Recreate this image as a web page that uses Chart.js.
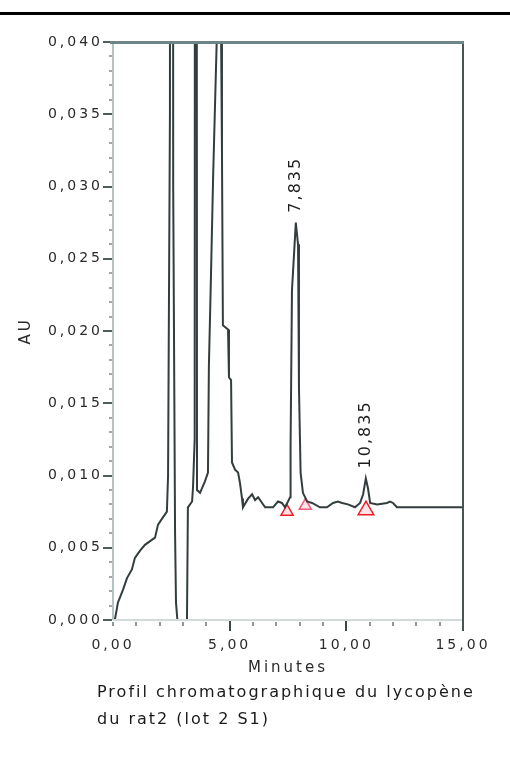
<!DOCTYPE html>
<html>
<head>
<meta charset="utf-8">
<script src="https://cdn.jsdelivr.net/npm/chart.js@4.4.1/dist/chart.umd.min.js"></script>
<style>
  html, body { margin: 0; padding: 0; background: #fff; }
  #page { position: relative; width: 510px; height: 776px; overflow: hidden; }
  #rule { position: absolute; left: 0; top: 12px; width: 510px; height: 3px; background: #000; }
  #wrap { position: absolute; left: 0; top: 0; width: 510px; height: 680px; }
  #caption {
    position: absolute; left: 97px; top: 678px;
    font: 16px "DejaVu Sans", sans-serif; letter-spacing: 2px; line-height: 27px; color: #1a1a1a;
  }
</style>
</head>
<body>
<div id="page">
  <div id="rule"></div>
  <div id="wrap"><canvas id="chrom" width="510" height="680"></canvas></div>
  <div id="caption">Profil chromatographique du lycopène<br>du rat2 (lot 2 S1)</div>
</div>
<script>
// retention time (min) and detector response (AU)
const minutes = [
  0.00, 0.09, 0.21, 0.43, 0.60, 0.81, 0.94, 1.16, 1.37, 1.80, 1.93, 2.14, 2.31, 2.36,
  2.44, 2.50, 2.58, 2.66, 2.70, 2.76, 2.82, 3.10, 3.17, 3.21, 3.39, 3.43, 3.50, 3.55,
  3.60, 3.73, 3.94, 4.07, 4.11, 4.20, 4.29, 4.46, 4.55, 4.63, 4.67, 4.71, 4.93, 4.97,
  5.06, 5.10, 5.23, 5.36, 5.44, 5.53, 5.57, 5.79, 5.96, 6.09, 6.22, 6.39, 6.52, 6.86,
  7.07, 7.24, 7.37, 7.50, 7.59, 7.61, 7.67, 7.835, 7.93, 7.97, 8.04, 8.14, 8.32, 8.53,
  8.87, 9.17, 9.43, 9.64, 9.82, 10.07, 10.37, 10.59, 10.72, 10.835, 10.93, 11.02, 11.32,
  11.74, 11.87, 12.00, 12.17, 12.43, 15.00
];
const absorbance = [
  0.0000, 0.0001, 0.0012, 0.0021, 0.0029, 0.0035, 0.0043, 0.0048, 0.0052, 0.0057, 0.0066, 0.0071, 0.0075, 0.0100,
  0.0350, 0.3000, 0.0300, 0.0060, 0.0012, 0.0000, -0.0040, -0.0040, 0.0000, 0.0078, 0.0082, 0.0092, 0.0125, 0.2000,
  0.0090, 0.0088, 0.0096, 0.0102, 0.0176, 0.0239, 0.0306, 0.0410, 0.0600, 0.0410, 0.0324, 0.0204, 0.0201, 0.0168,
  0.0166, 0.0109, 0.0104, 0.0102, 0.0095, 0.0084, 0.0078, 0.0084, 0.0087, 0.0083, 0.0085, 0.0081, 0.0078, 0.0078,
  0.0082, 0.0081, 0.0078, 0.0082, 0.0085, 0.0120, 0.0228, 0.0275, 0.0260, 0.0161, 0.0102, 0.0088, 0.0082, 0.0081,
  0.0078, 0.0078, 0.0081, 0.0082, 0.0081, 0.0080, 0.0078, 0.0081, 0.0087, 0.0098, 0.0091, 0.0081, 0.0080,
  0.0081, 0.0082, 0.0081, 0.0078, 0.0078, 0.0078
];

// integrated peaks (apex times) and their baseline markers
const peakTimes = [7.835, 10.835];
const markerTimes = [7.46, 8.24, 10.84];
const markerLevels = [0.0075, 0.0079, 0.0076];
const markerColors = ['#ee1c25', '#f0607e', '#ee1c25'];
const markerSizes = [7, 7, 9];

const fmt = (v, d) => v.toFixed(d).replace('.', ',');
const isMajorY = v => Math.round(v * 1000) % 5 === 0;
const isMajorX = v => Math.round(v) % 5 === 0;

const tickFont = { family: 'DejaVu Sans', size: 14 };

// axis lines, tick marks, right border and top frame (filled rectangles)
const axisFrame = {
  id: 'axisFrame',
  afterDraw(chart) {
    const ctx = chart.ctx;
    const a = chart.chartArea;
    const xs = chart.scales.x, ys = chart.scales.y;
    const box = (color, x, y, w, h) => { ctx.fillStyle = color; ctx.fillRect(x, y, w, h); };
    const L = Math.round(a.left), R = Math.round(a.right), T = Math.round(a.top), B = Math.round(a.bottom);
    ctx.save();
    box('#b4c2c2', L - 1, T, 2, B - T);
    box('#d2dada', L, B - 1, R - L, 2);

    for (const t of ys.ticks) {
      const py = Math.round(ys.getPixelForValue(t.value));
      if (isMajorY(t.value)) box('#4f5c5c', L - 10, py - 1, 9, 2);
      else box('#9aaaaa', L - 4, py - 1, 3, 2);
    }
    for (const t of xs.ticks) {
      const px = Math.round(xs.getPixelForValue(t.value));
      if (isMajorX(t.value) && t.value > 0) box('#3e4848', px - 1, B + 1, 2, 10);
      else box('#8a9a9a', px - 1, B + 2, 2, 4);
    }

    box('#4a5454', R - 1, T, 2, B - T + 10);
    box('#6e8585', L - 3, T - 1, R - L + 4, 3);
    ctx.restore();
  }
};

// rotated retention-time labels above each integrated peak
const peakLabels = {
  id: 'peakLabels',
  afterDatasetsDraw(chart) {
    const { ctx, scales: { x, y } } = chart;
    ctx.save();
    ctx.font = '16px "DejaVu Sans"';
    ctx.letterSpacing = '2px';
    ctx.fillStyle = '#1e1e1e';
    ctx.textAlign = 'left';
    ctx.textBaseline = 'middle';
    peakTimes.forEach(t => {
      const h = absorbance[minutes.indexOf(t)];
      ctx.save();
      ctx.translate(x.getPixelForValue(t), y.getPixelForValue(h) - 10);
      ctx.rotate(-Math.PI / 2);
      ctx.fillText(fmt(t, 3), 0, 0);
      ctx.restore();
    });
    ctx.restore();
  }
};

const wideText = {
  id: 'wideText',
  beforeDraw(chart) { chart.ctx.letterSpacing = '3px'; }
};

new Chart(document.getElementById('chrom'), {
  type: 'scatter',
  data: {
    datasets: [
      {
        data: minutes.map((m, i) => ({ x: m, y: absorbance[i] })),
        showLine: true,
        borderColor: '#333d3d',
        borderWidth: 2,
        pointRadius: 0,
        tension: 0
      },
      {
        data: markerTimes.map((m, i) => ({ x: m, y: markerLevels[i] })),
        pointStyle: 'triangle',
        pointRadius: markerSizes,
        borderColor: markerColors,
        backgroundColor: 'rgba(255, 140, 160, 0.25)',
        borderWidth: 1.5
      }
    ]
  },
  options: {
    responsive: false,
    animation: false,
    layout: { padding: { left: 0, right: 47, top: 42, bottom: 0 } },
    plugins: { legend: { display: false }, tooltip: { enabled: false } },
    scales: {
      x: {
        type: 'linear', min: 0, max: 15,
        afterFit: s => { s.height = 60; },
        grid: { display: false, drawTicks: false },
        border: { display: false },
        ticks: {
          stepSize: 1, autoSkip: false, maxRotation: 0, padding: 17,
          color: '#2a2a2a', font: tickFont,
          callback: v => isMajorX(v) ? fmt(v, 2) : ''
        },
        title: {
          display: true, text: 'Minutes', color: '#2a2a2a',
          font: { family: 'DejaVu Sans', size: 15 }, padding: { top: 0, bottom: 3 }
        }
      },
      y: {
        min: 0, max: 0.04,
        afterFit: s => { s.width = 113; },
        grid: { display: false, drawTicks: false },
        border: { display: false },
        ticks: {
          stepSize: 0.001, autoSkip: false, padding: 10,
          color: '#2a2a2a', font: tickFont,
          callback: v => isMajorY(v) ? fmt(v, 3) : ''
        },
        title: {
          display: true, text: 'AU', color: '#2a2a2a',
          font: { family: 'DejaVu Sans', size: 15 }, padding: { top: 17, bottom: 0 }
        }
      }
    }
  },
  plugins: [wideText, axisFrame, peakLabels]
});
</script>
</body>
</html>
